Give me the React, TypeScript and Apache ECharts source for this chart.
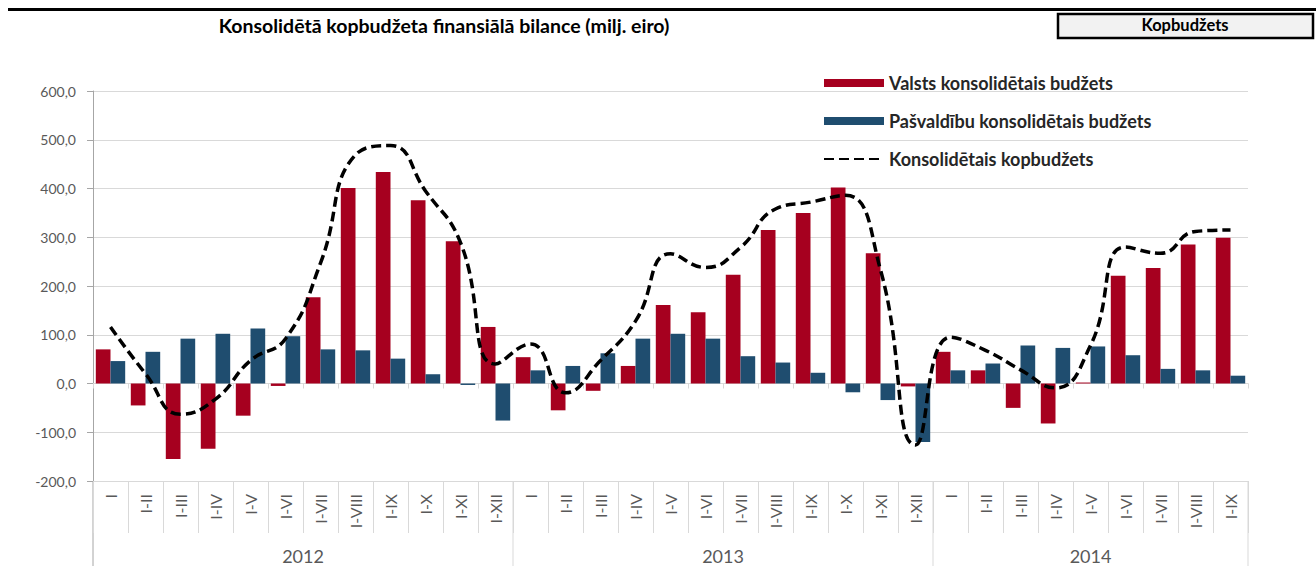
import React, { useEffect, useRef } from "react";
import * as echarts from "echarts";

const MONTHS = ["I", "I-II", "I-III", "I-IV", "I-V", "I-VI", "I-VII", "I-VIII", "I-IX", "I-X", "I-XI", "I-XII"];
const YEARS = ["2012", "2013", "2014"];
const YEAR_COUNTS = [12, 12, 9];
const CATEGORIES = YEAR_COUNTS.flatMap((n) => MONTHS.slice(0, n));

const Y_TICKS = [-200, -100, 0, 100, 200, 300, 400, 500, 600];

const VALSTS = [
  70, -45, -155, -134, -66, -5, 177, 401, 434, 376, 292, 116,
  54, -55, -15, 36, 161, 146, 223, 315, 350, 402, 267, -6,
  65, 27, -50, -82, 2, 221, 237, 285, 299,
];
const PASVALDIBU = [
  46, 65, 92, 102, 113, 97, 70, 68, 51, 19, -3, -76,
  27, 36, 62, 92, 102, 92, 56, 43, 22, -18, -34, -120,
  27, 41, 78, 73, 76, 58, 30, 27, 16,
];
const KOPBUDZETS = [
  116, 20, -63, -32, 47, 92, 247, 469, 488, 395, 289, 40,
  81, -19, 47, 128, 266, 238, 279, 358, 372, 386, 233, -126,
  95, 68, 28, -9, 78, 280, 267, 312, 315,
];

const SERIES_NAMES = ["Valsts konsolidētais budžets", "Pašvaldību konsolidētais budžets", "Konsolidētais kopbudžets"];
const TITLE = "Konsolidētā kopbudžeta finansiālā bilance (milj. eiro)";
const BOX_LABEL = "Kopbudžets";

const RED = "#a6001f";
const BLUE = "#1f4d6f";
const GRID = "#d9d9d9";
const AXIS_TEXT = "#595959";
const FONT = "Lato, 'Open Sans', sans-serif";

export default function App() {
  const ref = useRef<HTMLDivElement>(null);

  useEffect(() => {
    if (!ref.current) return;
    const chart = echarts.init(ref.current, undefined, { renderer: "svg" });
    chart.setOption({
      animation: false,
      textStyle: { fontFamily: FONT },
      grid: { left: 93, right: 68, top: 91, bottom: 85, containLabel: false },
      legend: {
        orient: "vertical",
        left: 823,
        top: 74,
        padding: 0,
        itemWidth: 60,
        itemHeight: 8,
        itemGap: 20,
        textStyle: { fontFamily: FONT, fontSize: 18, fontWeight: "bold", color: "#262626", lineHeight: 18 },
        data: [
          { name: SERIES_NAMES[0], icon: "rect" },
          { name: SERIES_NAMES[1], icon: "rect" },
          { name: SERIES_NAMES[2], itemStyle: { opacity: 0, color: "transparent", borderColor: "transparent" } },
        ],
      },
      xAxis: [
        {
          type: "category",
          data: CATEGORIES,
          position: "bottom",
          axisLine: { onZero: false, lineStyle: { color: GRID } },
          axisTick: { show: true, interval: 0, length: 52, lineStyle: { color: GRID } },
          axisLabel: {
            interval: 0,
            rotate: 90,
            margin: 13,
            fontSize: 16,
            color: AXIS_TEXT,
            fontFamily: FONT,
          },
        },
        {
          type: "category",
          data: CATEGORIES,
          position: "top",
          axisLine: { onZero: true, lineStyle: { color: GRID } },
          axisTick: { show: true, inside: true, interval: 0, length: 5, lineStyle: { color: GRID } },
          axisLabel: { show: false },
        },
      ],
      yAxis: {
        type: "value",
        min: Y_TICKS[0],
        max: Y_TICKS[Y_TICKS.length - 1],
        interval: 100,
        axisLine: { show: true, lineStyle: { color: "#a6a6a6" } },
        axisTick: { show: true, length: 6, lineStyle: { color: "#a6a6a6" } },
        splitLine: { lineStyle: { color: GRID } },
        axisLabel: {
          fontSize: 14,
          color: AXIS_TEXT,
          fontFamily: FONT,
          margin: 17,
          formatter: (v: number) => v.toFixed(1).replace(".", ","),
        },
      },
      series: [
        {
          name: SERIES_NAMES[0],
          type: "bar",
          xAxisIndex: 0,
          data: VALSTS,
          barGap: "0%",
          barCategoryGap: "16%",
          itemStyle: { color: RED },
        },
        {
          name: SERIES_NAMES[1],
          type: "bar",
          xAxisIndex: 0,
          data: PASVALDIBU,
          barGap: "0%",
          barCategoryGap: "16%",
          itemStyle: { color: BLUE },
        },
        {
          name: SERIES_NAMES[2],
          type: "line",
          xAxisIndex: 0,
          data: KOPBUDZETS,
          smooth: 0.5,
          symbol: "none",
          z: 5,
          itemStyle: { color: "#000" },
          lineStyle: { color: "#000", width: 3.5, type: [10, 5] },
        },
      ],
    });

    const px = (i: number) => chart.convertToPixel({ xAxisIndex: 0 }, i) as number;
    const bw = px(1) - px(0);
    const yBottom = chart.convertToPixel({ yAxisIndex: 0 }, Y_TICKS[0]) as number;
    const graphics: any[] = [
      { type: "line", shape: { x1: 8, y1: 9.5, x2: 1316, y2: 9.5 }, style: { stroke: "#000", lineWidth: 3 } },
      {
        type: "text",
        x: 444,
        y: 25,
        style: { text: TITLE, fontFamily: FONT, fontSize: 19.5, fontWeight: "bold", fill: "#000", align: "center", verticalAlign: "middle" },
      },
      { type: "rect", shape: { x: 1058, y: 14, width: 255, height: 24 }, style: { fill: "#f2f2f2", stroke: "#000", lineWidth: 2.5 } },
      {
        type: "text",
        x: 1185,
        y: 25,
        style: { text: BOX_LABEL, fontFamily: FONT, fontSize: 16.5, fontWeight: "bold", fill: "#000", align: "center", verticalAlign: "middle" },
      },
    ];
    let start = 0;
    YEAR_COUNTS.forEach((n, k) => {
      const x0 = px(start) - bw / 2;
      const x1 = px(start + n - 1) + bw / 2;
      graphics.push({ type: "line", shape: { x1: x0, y1: yBottom, x2: x0, y2: 566 }, style: { stroke: k === 0 ? "#a6a6a6" : GRID, lineWidth: 1 } });
      if (k === YEAR_COUNTS.length - 1) {
        graphics.push({ type: "line", shape: { x1: x1, y1: yBottom, x2: x1, y2: 566 }, style: { stroke: GRID, lineWidth: 1 } });
      }
      graphics.push({
        type: "text",
        x: (x0 + x1) / 2,
        y: 556,
        style: { text: YEARS[k], fontFamily: FONT, fontSize: 18, fill: AXIS_TEXT, align: "center", verticalAlign: "middle" },
      });
      start += n;
    });
    chart.setOption({ graphic: graphics });

    return () => chart.dispose();
  }, []);

  return <div ref={ref} style={{ position: "fixed", left: 0, top: 0, width: 1316, height: 566, background: "#fff" }} />;
}
